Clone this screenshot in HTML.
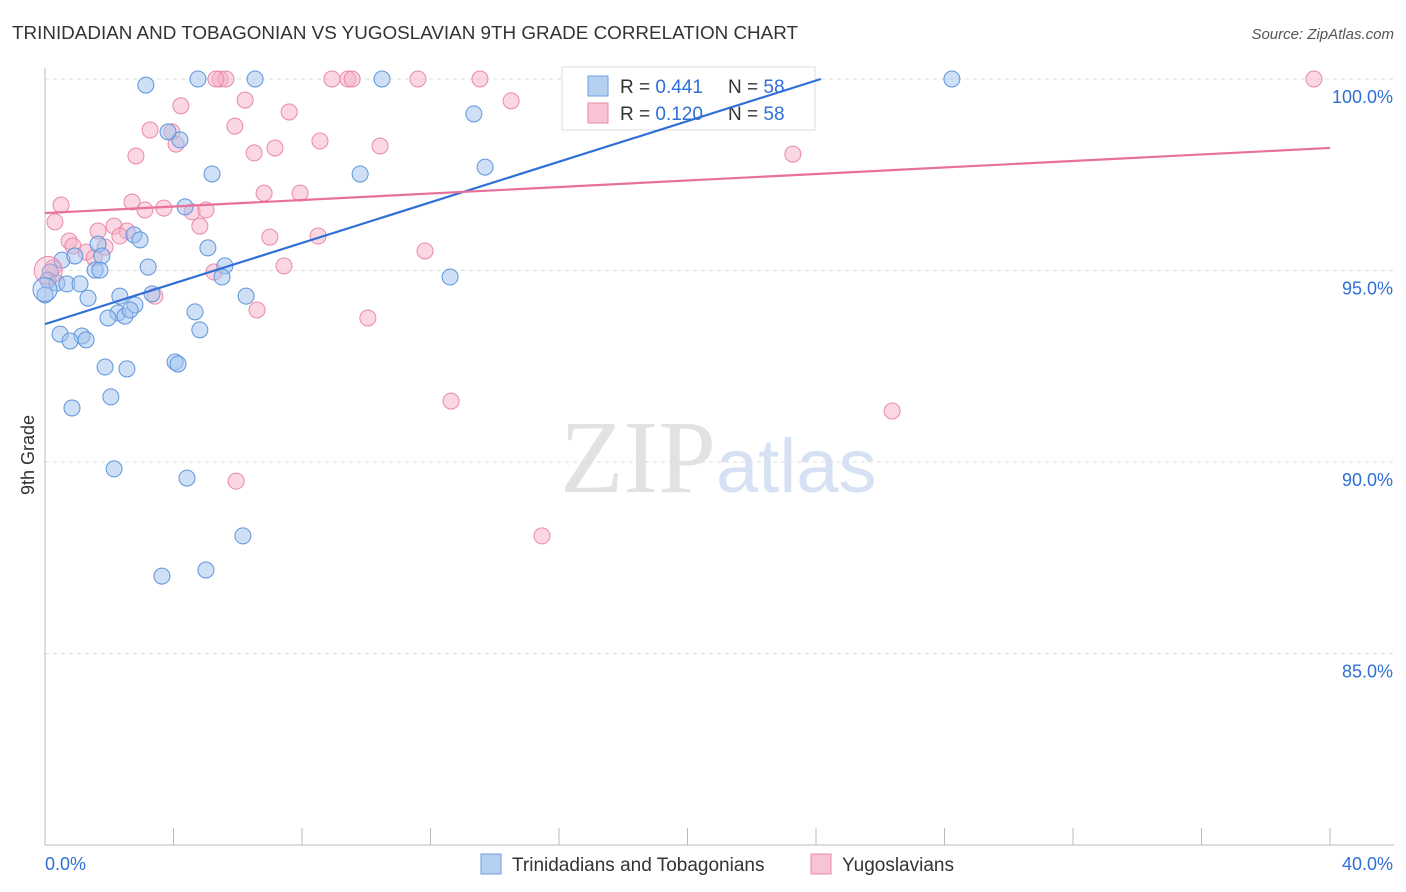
<!DOCTYPE html>
<html><head><meta charset="utf-8">
<style>
body{margin:0;background:#fff;font-family:"Liberation Sans",sans-serif;}
#wrap{position:relative;width:1406px;height:892px;overflow:hidden;}
</style></head>
<body>
<div id="wrap">
<svg id="svg" width="1406" height="892" xmlns="http://www.w3.org/2000/svg">
<text x="12" y="39" font-size="18" fill="#333" textLength="786" lengthAdjust="spacingAndGlyphs">TRINIDADIAN AND TOBAGONIAN VS YUGOSLAVIAN 9TH GRADE CORRELATION CHART</text>
<text x="1394" y="39" font-size="15" fill="#555" font-style="italic" text-anchor="end">Source: ZipAtlas.com</text>
<text x="716" y="492" font-size="104" fill="#e2e2e2" text-anchor="end" font-family="Liberation Serif,serif">ZIP</text>
<text x="716" y="492" font-size="76" fill="#d6e2f3">atlas</text>
<text transform="translate(34,455) rotate(-90)" font-size="18" fill="#333" text-anchor="middle">9th Grade</text>
<g id="grid"></g><g id="axes"></g><g id="marks"></g>
<g>
<rect x="562" y="67" width="253" height="63" fill="#fff" stroke="#ddd"/>
<rect x="588" y="76" width="20" height="20" fill="#b6d0f2" stroke="#6a9fe0"/>
<rect x="588" y="103" width="20" height="20" fill="#f8c4d4" stroke="#e88aa8"/>
<text x="620" y="93" font-size="19" fill="#333">R = <tspan fill="#2f6fd6">0.441</tspan></text>
<text x="728" y="93" font-size="19" fill="#333">N = <tspan fill="#2f6fd6">58</tspan></text>
<text x="620" y="120" font-size="19" fill="#333">R = <tspan fill="#2f6fd6">0.120</tspan></text>
<text x="728" y="120" font-size="19" fill="#333">N = <tspan fill="#2f6fd6">58</tspan></text>
</g>
<g id="lines"></g>
<g>
<rect x="481" y="854" width="20" height="20" fill="#b6d0f2" stroke="#6a9fe0"/>
<text x="512" y="871" font-size="19" fill="#333">Trinidadians and Tobagonians</text>
<rect x="811" y="854" width="20" height="20" fill="#f8c4d4" stroke="#e88aa8"/>
<text x="842" y="871" font-size="19" fill="#333">Yugoslavians</text>
</g>
</svg>
</div>
<script>
const yTicks=[100,95,90,85];
const yTickLabels=["100.0%","95.0%","90.0%","85.0%"];
const xEndLabels=["0.0%","40.0%"];
const blueX=[3.14,4.76,6.54,10.49,28.23,13.35,4.20,3.83,5.20,9.81,13.70,4.36,2.77,2.96,1.65,5.07,0.53,0.93,1.77,3.21,5.60,1.56,1.71,5.51,0.16,0.09,0.37,0.68,1.09,12.61,0,1.34,2.33,3.33,6.26,2.80,4.67,2.27,1.96,2.49,2.65,4.82,0.47,1.15,0.78,1.28,4.05,4.14,1.87,2.55,0.84,2.05,2.15,4.42,6.16,3.64,5.01];
const blueY=[99.84,100,100,100,100,99.09,98.41,98.62,97.52,97.52,97.70,96.66,95.93,95.80,95.69,95.59,95.27,95.38,95.38,95.09,95.12,95.01,95.01,94.83,94.96,94.75,94.67,94.65,94.65,94.83,94.36,94.28,94.33,94.39,94.33,94.10,93.92,93.89,93.76,93.81,93.97,93.45,93.34,93.29,93.16,93.19,92.61,92.56,92.48,92.43,91.41,91.70,89.82,89.58,88.07,87.02,87.18];
const pinkX=[5.45,5.63,5.32,8.93,9.43,9.56,11.61,13.54,20.08,20.64,39.50,4.23,6.23,7.60,14.51,3.27,3.95,4.08,5.91,8.56,10.43,2.83,6.51,7.16,23.28,6.82,7.94,0.50,2.71,3.70,3.11,4.58,5.01,0.31,4.82,2.15,2.55,1.65,2.33,7.00,8.50,0.75,0.87,1.87,1.28,1.53,11.83,7.44,5.26,0.25,3.42,6.60,10.05,12.64,26.37,5.95,15.47];
const pinkY=[100,100,100,100,100,100,100,100,100,100,100,99.30,99.45,99.14,99.43,98.67,98.62,98.30,98.77,98.38,98.25,97.99,98.07,98.20,98.04,97.02,97.02,96.71,96.79,96.63,96.58,96.53,96.58,96.27,96.16,96.16,96.03,96.03,95.90,95.87,95.90,95.77,95.64,95.61,95.48,95.33,95.51,95.12,94.96,95.07,94.33,93.97,93.76,91.59,91.33,89.50,88.07];
const blueTrend=[93.6,0.265];
const pinkTrend=[96.5,0.0425];
const NS="http://www.w3.org/2000/svg";
const X0=45,X1=1330,Y100=79,PXPER=38.3;
function xs(v){return X0+(X1-X0)*v/40;}
function ys(v){return Y100+(100-v)*PXPER;}
function mk(t,a,p){const e=document.createElementNS(NS,t);for(const k in a)e.setAttribute(k,a[k]);p.appendChild(e);return e;}
const grid=document.getElementById('grid'),axes=document.getElementById('axes'),marks=document.getElementById('marks'),lines=document.getElementById('lines');
yTicks.forEach((t,i)=>{
 const l=mk('line',{x1:X0,x2:1394,y1:ys(t),y2:ys(t),stroke:'#ddd','stroke-dasharray':'4,4'},grid);
 
 
 const tx=mk('text',{x:1393,y:ys(t)+24,'font-size':18,fill:'#2f6fd6','text-anchor':'end'},axes);
 tx.textContent=yTickLabels[i];
 
 
});
const ya=mk('line',{x1:X0,x2:X0,y1:68,y2:845,stroke:'#bbb'},axes);


const xa=mk('line',{x1:X0,x2:1394,y1:845,y2:845,stroke:'#bbb'},axes);


for(let v=0;v<=40;v+=4){
 const t=mk('line',{x1:xs(v),x2:xs(v),y1:828,y2:845,stroke:'#bbb'},axes);
 
 
}
[[0,'start'],[40,'end']].forEach((d,i)=>{
 const t=mk('text',{x:i?1393:45,y:870,'font-size':18,fill:'#2f6fd6','text-anchor':d[1]},axes);
 t.textContent=xEndLabels[i];
 
 
});
function dots(X,Y,fill,stroke,name){
 X.forEach((x,i)=>{
  const c=mk('circle',{cx:xs(x),cy:ys(Y[i]),r:8,fill:fill,'fill-opacity':0.5,stroke:stroke,'stroke-width':1},marks);
  
  
 });
}
dots(pinkX,pinkY,'#f5b0c6','#e88aa8','pink-point');
dots(blueX,blueY,'#9fc1ee','#5d95dd','blue-point');
const big1=mk('circle',{cx:xs(0.1),cy:ys(95.0),r:14,fill:'#f5b0c6','fill-opacity':0.4,stroke:'#e88aa8'},marks);


const big2=mk('circle',{cx:xs(0),cy:ys(94.5),r:12,fill:'#9fc1ee','fill-opacity':0.4,stroke:'#5d95dd'},marks);


const bxEnd=(100-blueTrend[0])/blueTrend[1];
const bl=mk('line',{x1:xs(0),y1:ys(blueTrend[0]),x2:xs(bxEnd),y2:ys(100),stroke:'#2f6fd6','stroke-width':2.2},lines);


const pl=mk('line',{x1:xs(0),y1:ys(pinkTrend[0]),x2:xs(40),y2:ys(pinkTrend[0]+40*pinkTrend[1]),stroke:'#e8709a','stroke-width':2.2},lines);


</script>
</body></html>
